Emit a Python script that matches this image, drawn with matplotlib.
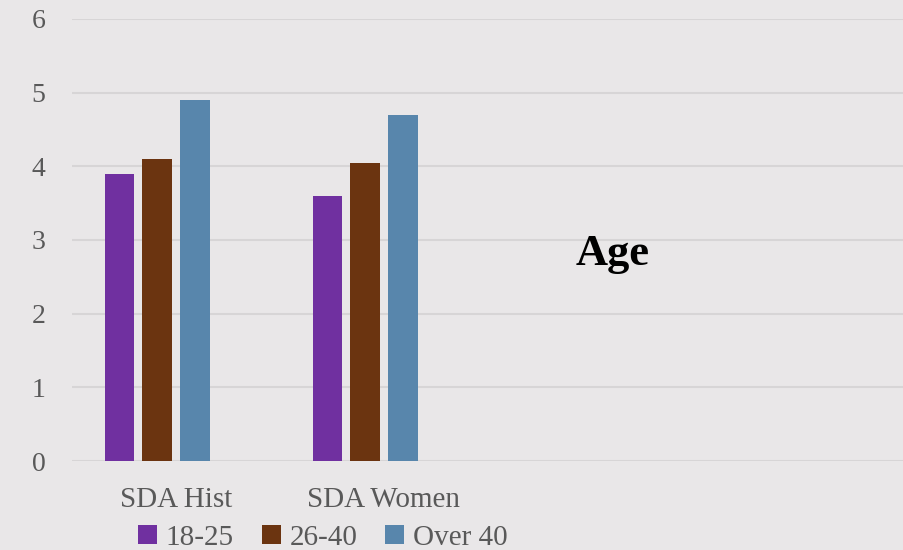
import numpy as np
import matplotlib.pyplot as plt

categories = ["SDA Hist", "SDA Women"]
series_names = ["18-25", "26-40", "Over 40"]
age_18_25 = [3.9, 3.6]
age_26_40 = [4.1, 4.05]
over_40 = [4.9, 4.7]
colors = ["#7030A0", "#6B3410", "#5886AC"]

bg = "#E9E7E8"
plt.rcParams['font.family'] = ['Liberation Serif', 'DejaVu Serif']

fig = plt.figure(figsize=(9.04, 5.5), dpi=100, facecolor=bg)
ax = fig.add_axes([0.0796, 0.1618, 0.9204, 0.8037], facecolor=bg)

x = np.arange(len(categories))
width = 0.144
step = 0.181
# Excel-style layout: room for a fourth (empty) series slot, so groups sit left of the label
for i, (vals, name) in enumerate(zip([age_18_25, age_26_40, over_40], series_names)):
    ax.bar(x + (i - 1.5) * step, vals, width, color=colors[i], label=name, zorder=3)

ax.set_xlim(-0.5, 3.5)
ax.set_ylim(0, 6)
ax.set_yticks(range(0, 7))
ax.set_xticks(x)
ax.set_xticklabels(categories)
ax.grid(axis='y', color='#D7D5D6', linewidth=1.5, zorder=0)
for s in ax.spines.values():
    s.set_visible(False)
ax.tick_params(axis='both', length=0, labelcolor='#595959', labelsize=21)
ax.tick_params(axis='x', pad=19)
ax.tick_params(axis='y', labelsize=20, pad=19)

ax.text(0.65, 0.468, "Age", transform=ax.transAxes, ha='center', va='center',
        fontsize=32, fontweight='bold', color='black')

leg = fig.legend(loc='center', bbox_to_anchor=(0.357, 0.022), ncol=3, frameon=False,
                 fontsize=21, handlelength=0.65, handleheight=0.65, handletextpad=0.3,
                 columnspacing=0.95, labelcolor='#595959')

fig.savefig("out.png", dpi=100, facecolor=bg)
